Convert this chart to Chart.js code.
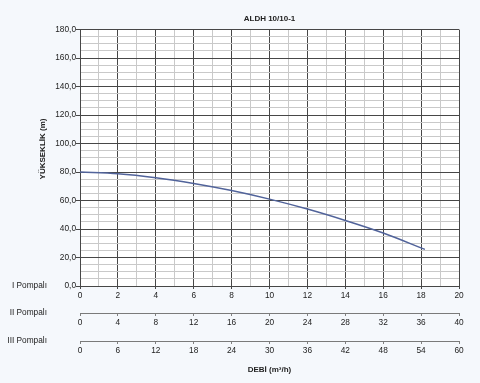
<!DOCTYPE html>
<html>
<head>
<meta charset="utf-8">
<script src="https://cdn.jsdelivr.net/npm/chart.js@4.4.1/dist/chart.umd.min.js"></script>
<style>
  html, body { margin: 0; padding: 0; background: #f5f8fc; }
  #wrap { width: 480px; height: 383px; position: relative; }
</style>
</head>
<body>
<div id="wrap"><canvas id="c" width="480" height="383"></canvas></div>
<script>
// ---- data ----
const flowI = [0, 2, 4, 6, 8, 10, 12, 14, 16, 18.2];        // I Pompalı flow (m³/h)
const head  = [80, 78.8, 76, 72, 67, 61, 54, 46, 37.2, 25.7]; // head (m)
const chartTitle = 'ALDH 10/10-1';
const yTitle = 'YÜKSEKLİK (m)';
const xTitle = 'DEBİ (m³/h)';
const pumpLabels = ['I Pompalı', 'II Pompalı', 'III Pompalı'];
const xMax = [20, 40, 60];
const xStep = [2, 4, 6];
const yMax = 180;

const FONT = "'Liberation Sans', Arial, Helvetica, sans-serif";
const TXT = '#222';
const MAJOR = '#474747';
const MINOR = '#c9c9c9';

const pts = flowI.map((x, i) => ({ x: x, y: head[i] }));

const sideText = {
  id: 'sideText',
  afterDraw(chart) {
    const ctx = chart.ctx;
    ctx.save();
    ctx.fillStyle = TXT;
    ctx.font = '8.3px ' + FONT;
    ctx.textAlign = 'right';
    ctx.textBaseline = 'middle';
    ['x', 'x2', 'x3'].forEach((id, i) => {
      ctx.fillText(pumpLabels[i], 47, chart.scales[id].top);
    });
    ctx.font = 'bold 8px ' + FONT;
    ctx.translate(43, 149);
    ctx.rotate(-Math.PI / 2);
    ctx.textAlign = 'center';
    ctx.fillText(yTitle, 0, 0);
    ctx.restore();
  }
};

const bg = {
  id: 'bg',
  beforeDraw(chart) {
    const { ctx, chartArea: a } = chart;
    ctx.save();
    ctx.fillStyle = '#ffffff';
    ctx.fillRect(a.left, a.top, a.right - a.left, a.bottom - a.top);
    ctx.restore();
  }
};

function secAxis(idx, h, weight, withTitle) {
  const o = {
    type: 'linear',
    position: 'bottom',
    min: 0,
    max: xMax[idx],
    weight: weight,
    afterFit(s) { s.height = h; },
    ticks: {
      stepSize: xStep[idx],
      autoSkip: false,
      maxRotation: 0,
      color: TXT,
      font: { family: FONT, size: 8.3 },
      padding: 2
    },
    grid: { drawOnChartArea: false, drawTicks: true, tickLength: 3, color: '#808080' },
    border: { color: '#7a7a7a', width: 1 }
  };
  if (withTitle) {
    o.title = {
      display: true,
      text: xTitle,
      color: TXT,
      font: { family: FONT, size: 8, weight: 'bold' },
      padding: { top: 4, bottom: 8 }
    };
  }
  return o;
}

new Chart(document.getElementById('c'), {
  type: 'line',
  data: {
    datasets: [{
      data: pts,
      xAxisID: 'x',
      yAxisID: 'y',
      borderColor: '#51639a',
      borderWidth: 1.5,
      pointRadius: 0,
      tension: 0.4,
      cubicInterpolationMode: 'monotone',
      fill: false
    }]
  },
  options: {
    responsive: false,
    animation: false,
    layout: { padding: { left: 0, right: 21, top: 0, bottom: 0 } },
    plugins: {
      legend: { display: false },
      tooltip: { enabled: false },
      title: {
        display: true,
        text: chartTitle,
        fullSize: false,
        color: TXT,
        font: { family: FONT, size: 8, weight: 'bold' },
        padding: { top: 14, bottom: 6 }
      }
    },
    scales: {
      x: {
        type: 'linear',
        position: 'bottom',
        min: 0,
        max: xMax[0],
        weight: 1,
        afterFit(s) { s.height = 27; },
        ticks: {
          stepSize: 1,
          autoSkip: false,
          maxRotation: 0,
          color: TXT,
          font: { family: FONT, size: 8.3 },
          padding: 2,
          callback: v => (v % xStep[0] === 0 ? String(v) : '')
        },
        grid: {
          color: c => (c.tick && c.tick.value % 2 === 0 ? MAJOR : MINOR),
          tickColor: c => (c.tick && c.tick.value % 2 === 0 ? MAJOR : 'rgba(0,0,0,0)'),
          lineWidth: 1,
          tickLength: 3
        },
        border: { color: MAJOR, width: 1 }
      },
      x2: secAxis(1, 28, 2, false),
      x3: secAxis(2, 42, 3, true),
      y: {
        type: 'linear',
        min: 0,
        max: yMax,
        afterFit(s) { s.width = 80; },
        ticks: {
          stepSize: 5,
          autoSkip: false,
          color: TXT,
          font: { family: FONT, size: 8.3 },
          padding: 0,
          callback: v => (v % 20 === 0 ? v.toFixed(1).replace('.', ',') : '')
        },
        grid: {
          color: c => (c.tick && c.tick.value % 20 === 0 ? MAJOR : MINOR),
          tickColor: c => (c.tick && c.tick.value % 20 === 0 ? MAJOR : 'rgba(0,0,0,0)'),
          lineWidth: 1,
          tickLength: 4
        },
        border: { color: MAJOR, width: 1 }
      }
    }
  },
  plugins: [bg, sideText]
});
</script>
</body>
</html>
